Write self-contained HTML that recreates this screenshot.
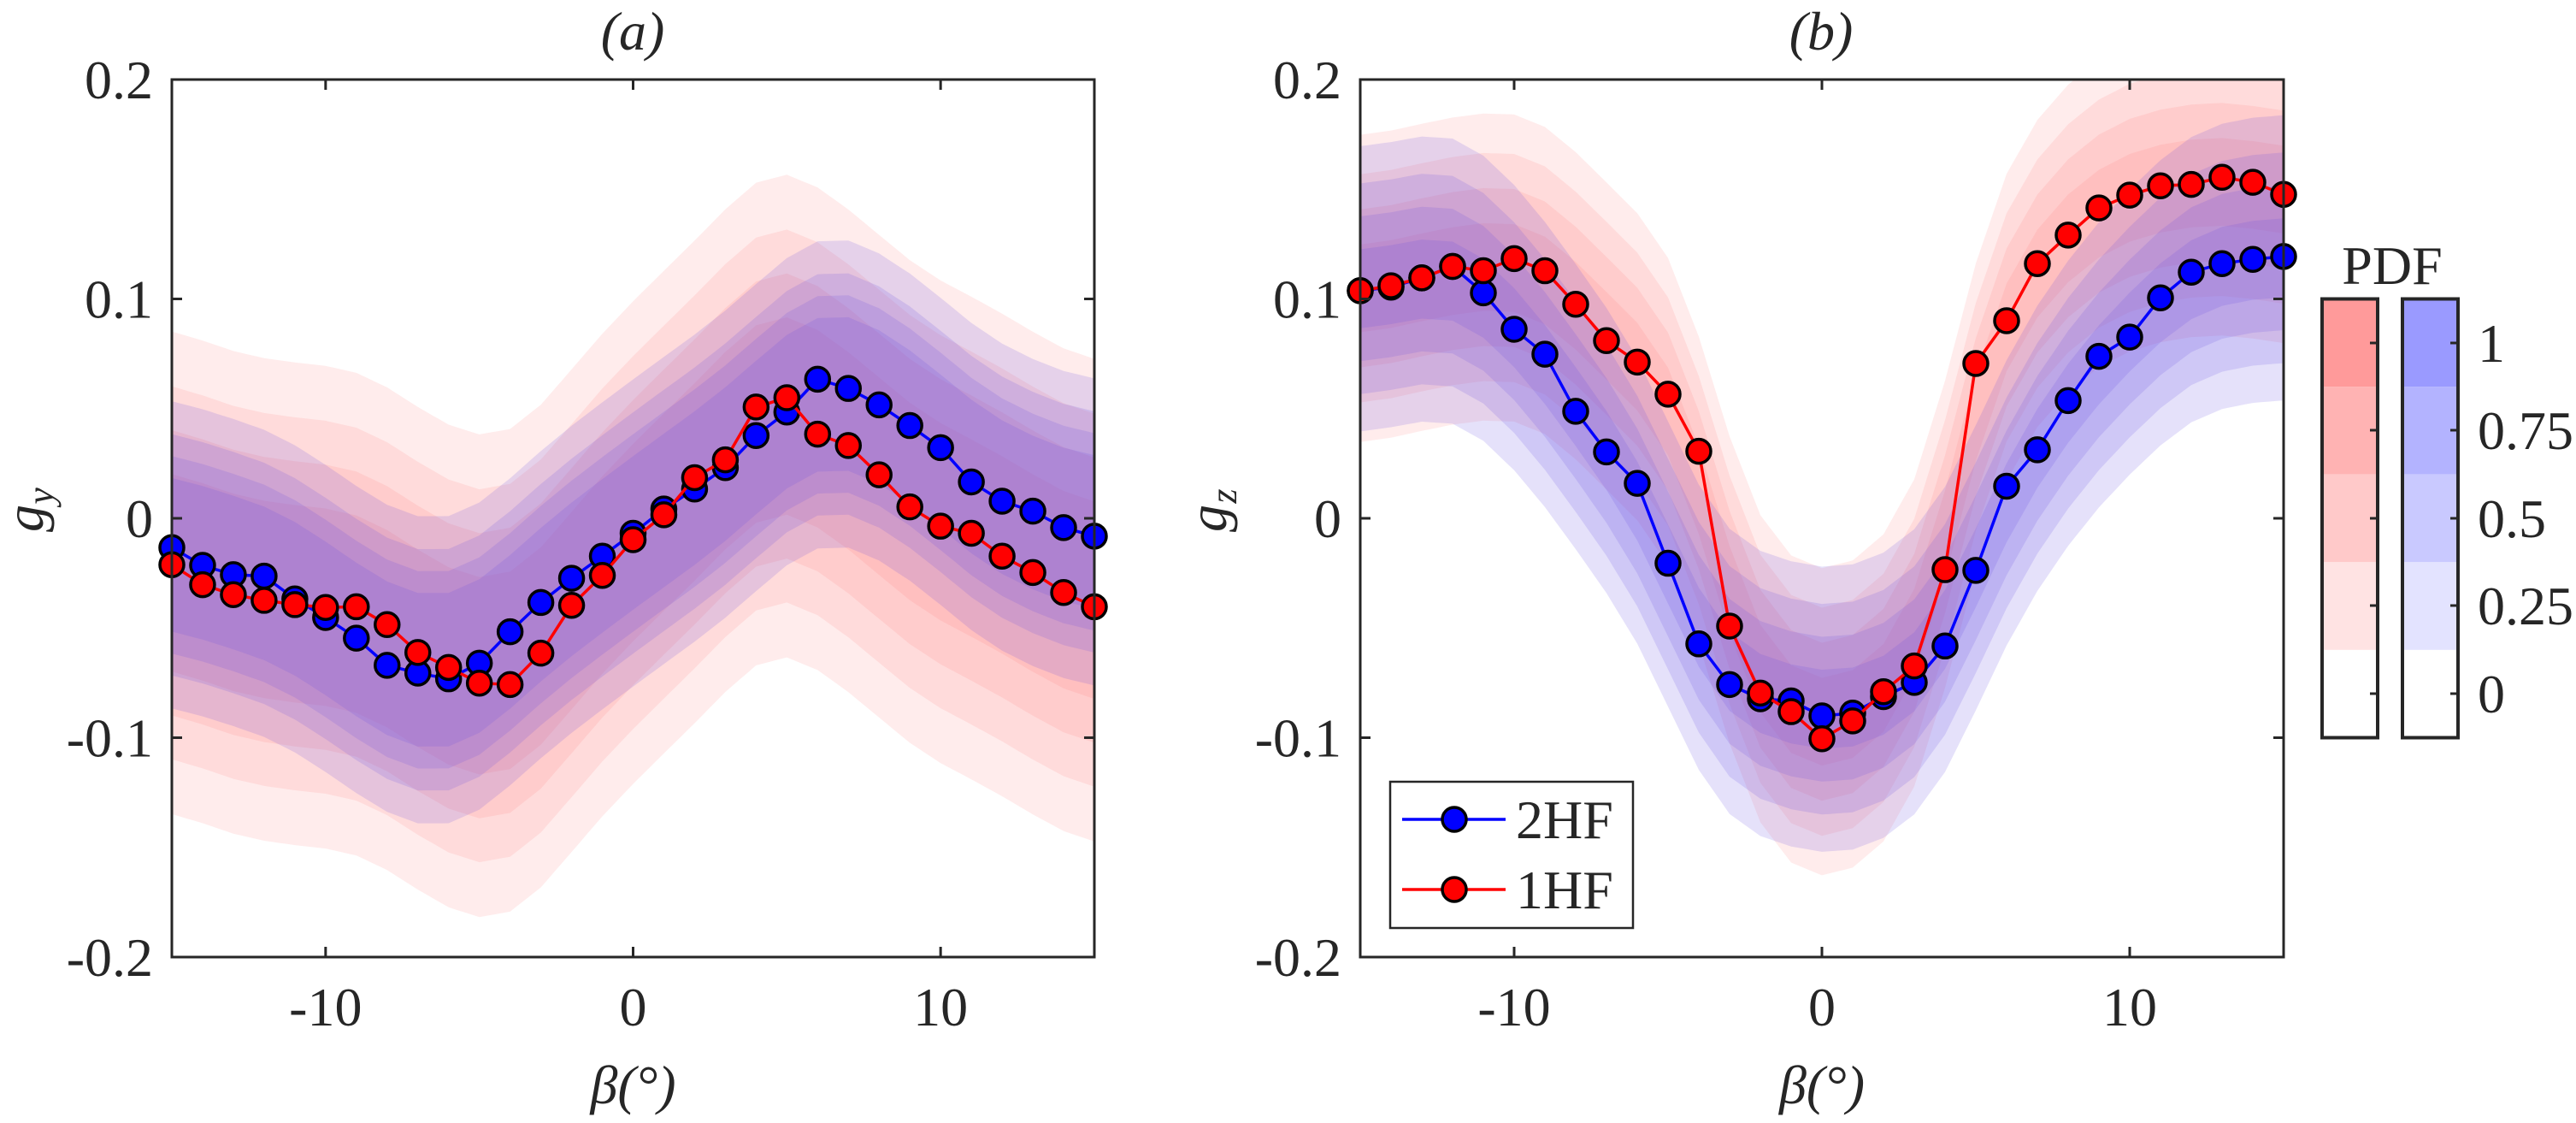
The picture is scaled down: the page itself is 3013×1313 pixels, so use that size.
<!DOCTYPE html>
<html><head><meta charset="utf-8"><style>
body{margin:0;background:#fff;}
text{font-family:"Liberation Serif","DejaVu Serif",serif;fill:#262626;}
</style></head><body>
<svg id="s" width="3013" height="1308" xmlns="http://www.w3.org/2000/svg" font-family="Liberation Serif, serif">
<defs>
<clipPath id="ca"><rect x="201" y="93" width="1079" height="1026"/></clipPath>
<clipPath id="cb"><rect x="1591" y="93" width="1080" height="1026"/></clipPath>
</defs>
<g id="ga" clip-path="url(#ca)"></g>
<g id="gb" clip-path="url(#cb)"></g>
<g id="fg"></g>
</svg>
<script>
const NS="http://www.w3.org/2000/svg";
function el(p,t,a,txt){const e=document.createElementNS(NS,t);if(t==="text"){e.setAttribute("font-family","Liberation Serif, serif");}for(const k in a)e.setAttribute(k,a[k]);if(txt!==undefined)e.textContent=txt;p.appendChild(e);return e;}
const cv=a=>a.map(z=>(727-z)/3075);
const A_b=cv([768,793,806,808,840,866,895,933,944,952,930,886,845,811,780,748,714,686,656,611,578,532,545,568,597,628,676,703,717,740,752]);
const A_r=cv([792,820,834,842,848,852,851,876,915,936,958,960,916,849,807,757,722,670,645,571,558,609,625,666,711,738,748,780,803,831,851]);
const B_b=cv([408,403,390,374,411,462,497,577,634,678,790,903,960,980,983,1004,1000,977,957,906,800,682,631,562,500,473,418,382,370,364,360]);
const B_r=cv([408,401,390,374,380,363,380,427,478,508,553,633,878,972,998,1036,1011,970,934,799,510,450,370,330,292,274,261,259,249,256,273]);
function smooth(a){let b=a.slice();for(let k=0;k<2;k++){const c=b.slice();for(let i=0;i<b.length;i++){const l=b[Math.max(0,i-1)],r=b[Math.min(b.length-1,i+1)];c[i]=(l+2*b[i]+r)/4;}b=c;}return b;}
function panel(g,x0,x1,data){
  const X=d=>x0+(d+15)/30*(x1-x0), Y=v=>606-v*2565;
  data.forEach(s=>{
    const sm=smooth(s.v);
    s.lv.forEach(h=>{
      let up=[],dn=[];
      for(let d=-15;d<=15.001;d+=0.25){const i=Math.min(29,Math.floor(d+15)),f=d+15-i;const c=sm[i]*(1-f)+sm[i+1]*f;up.push(X(d).toFixed(1)+","+Y(c+h).toFixed(1));dn.unshift(X(d).toFixed(1)+","+Y(c-h).toFixed(1));}
      el(g,"polygon",{points:up.concat(dn).join(" "),fill:s.bc,"fill-opacity":s.op});
    });
  });
  const fg=document.getElementById("fg");
  [data[1],data[0]].forEach(s=>{
    el(fg,"polyline",{points:s.v.map((v,i)=>X(i-15).toFixed(1)+","+Y(v).toFixed(1)).join(" "),fill:"none",stroke:s.lc,"stroke-width":3.5});
    s.v.forEach((v,i)=>el(fg,"circle",{cx:X(i-15),cy:Y(v),r:14,fill:s.lc,stroke:"#000","stroke-width":3.5}));
  });
  el(fg,"rect",{x:x0,y:93,width:x1-x0,height:1026,fill:"none",stroke:"#262626","stroke-width":3});
  [-10,0,10].forEach(d=>{el(fg,"line",{x1:X(d),x2:X(d),y1:93,y2:105,stroke:"#262626","stroke-width":3});el(fg,"line",{x1:X(d),x2:X(d),y1:1119,y2:1107,stroke:"#262626","stroke-width":3});
    el(fg,"text",{x:X(d),y:1199,"font-size":64,"text-anchor":"middle"},d==0?"0":String(d));});
  [0.2,0.1,0,-0.1,-0.2].forEach(v=>{el(fg,"line",{x1:x0,x2:x0+12,y1:Y(v),y2:Y(v),stroke:"#262626","stroke-width":3});el(fg,"line",{x1:x1,x2:x1-12,y1:Y(v),y2:Y(v),stroke:"#262626","stroke-width":3});
    el(fg,"text",{x:x0-22,y:Y(v)+22,"font-size":64,"text-anchor":"end"},v==0?"0":String(v));});
  el(fg,"text",{x:(x0+x1)/2,y:1290,"font-size":64,"text-anchor":"middle","font-style":"italic"},"β(°)");
}
const RC="#ff6b6b",BC="#6650e0";
panel(document.getElementById("ga"),201,1280,[
 {v:A_r,lv:[0.11,0.085,0.065,0.045],bc:RC,op:0.13,lc:"#ff0000"},
 {v:A_b,lv:[0.07,0.055,0.045,0.035],bc:BC,op:0.17,lc:"#0000ff"}]);
panel(document.getElementById("gb"),1591,2671,[
 {v:B_r,lv:[0.07,0.052,0.036,0.02],bc:RC,op:0.13,lc:"#ff0000"},
 {v:B_b,lv:[0.065,0.048,0.033,0.018],bc:BC,op:0.17,lc:"#0000ff"}]);
const fg=document.getElementById("fg");
el(fg,"text",{x:740,y:58,"font-size":64,"text-anchor":"middle","font-style":"italic"},"(a)");
el(fg,"text",{x:2130,y:58,"font-size":64,"text-anchor":"middle","font-style":"italic"},"(b)");
el(fg,"text",{x:0,y:0,"font-size":64,"font-style":"italic",transform:"translate(50,606) rotate(-90)","text-anchor":"middle"},"g");
el(fg,"text",{x:0,y:0,"font-size":44,"font-style":"italic",transform:"translate(62,580) rotate(-90)","text-anchor":"middle"},"y");
el(fg,"text",{x:0,y:0,"font-size":64,"font-style":"italic",transform:"translate(1434,606) rotate(-90)","text-anchor":"middle"},"g");
el(fg,"text",{x:0,y:0,"font-size":44,"font-style":"italic",transform:"translate(1446,580) rotate(-90)","text-anchor":"middle"},"z");
el(fg,"rect",{x:1626,y:914,width:284,height:171,fill:"#fff",stroke:"#262626","stroke-width":2.5});
[[958,"#0000ff","2HF"],[1040,"#ff0000","1HF"]].forEach(([y,c,t])=>{
 el(fg,"line",{x1:1640,x2:1761,y1:y,y2:y,stroke:c,"stroke-width":3.5});
 el(fg,"circle",{cx:1701,cy:y,r:14,fill:c,stroke:"#000","stroke-width":3.5});
 el(fg,"text",{x:1773,y:y+22,"font-size":64},t);
});
const rc=["#ff9a9a","#ffb3b3","#ffc9c9","#ffe3e3","#ffffff"],bc=["#9a9aff","#b3b3ff","#c9c9ff","#e3e3ff","#ffffff"];
[[2716,rc],[2810,bc]].forEach(([x,cs])=>{
 cs.forEach((c,i)=>el(fg,"rect",{x:x,y:349.5+i*102.6,width:65,height:102.6,fill:c}));
 el(fg,"rect",{x:x,y:349.5,width:65,height:513,fill:"none",stroke:"#262626","stroke-width":4});
 [401,503,606,708,811].forEach(y=>el(fg,"line",{x1:x+65,x2:x+56,y1:y,y2:y,stroke:"#262626","stroke-width":3}));
});
["1","0.75","0.5","0.25","0"].forEach((t,i)=>el(fg,"text",{x:2898,y:[401,503,606,708,811][i]+22,"font-size":64},t));
el(fg,"text",{x:2798,y:332,"font-size":64,"text-anchor":"middle"},"PDF");
</script>
</body></html>
